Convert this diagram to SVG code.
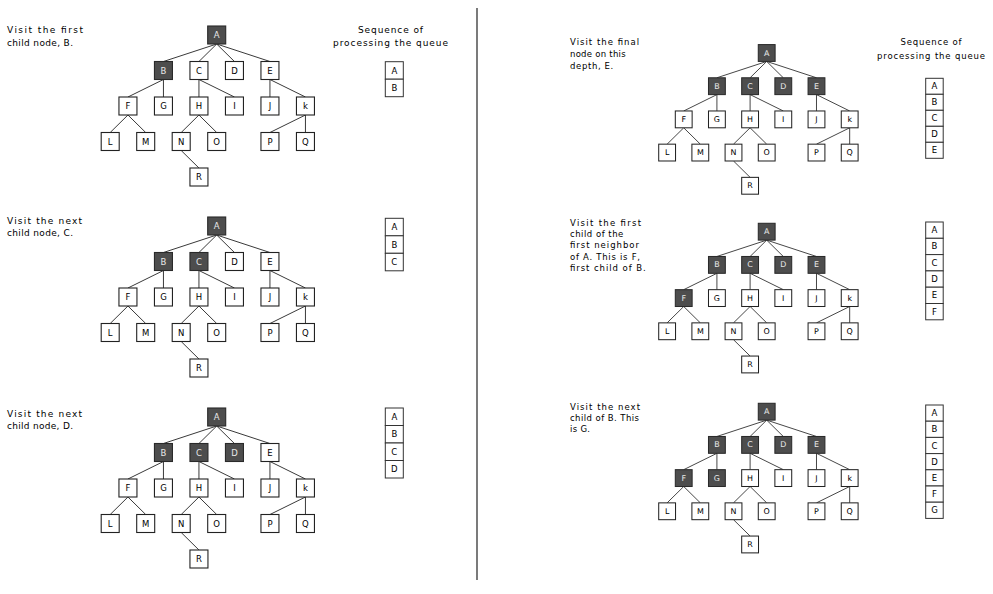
<svg xmlns="http://www.w3.org/2000/svg" width="993" height="594" viewBox="0 0 993 594">
<style>
.n rect{fill:#fff;stroke:#222;stroke-width:1.1}
.n text{font-family:"DejaVu Sans",sans-serif;font-size:8.5px;text-anchor:middle;dominant-baseline:central;fill:#000}
.dk rect{fill:#4d4d4d;stroke:#2a2a2a}
.dk text{fill:#e8e8e8}
.e line{stroke:#3a3a3a;stroke-width:1}
.q rect{fill:#fff;stroke:#333;stroke-width:1}
.q text{font-family:"DejaVu Sans",sans-serif;font-size:8.5px;text-anchor:middle;dominant-baseline:central;fill:#000}
.t{font-family:"DejaVu Sans",sans-serif;font-size:9px;fill:#000}
.tr{font-family:"DejaVu Sans",sans-serif;font-size:8.5px;fill:#000}
.qt{font-family:"DejaVu Sans",sans-serif;font-size:9px;fill:#000;text-anchor:middle}
</style>
<rect width="993" height="594" fill="#fff"/>
<line x1="477" y1="8" x2="477" y2="580" stroke="#333" stroke-width="1.3"/>

<!-- Panel 1 -->
<g id="panel1">
<text class="t" x="7" y="33" textLength="76" lengthAdjust="spacing">Visit the first</text>
<text class="t" x="7" y="45.5" textLength="66" lengthAdjust="spacing">child node, B.</text>
<text class="qt" x="390.5" y="32.5" textLength="65" lengthAdjust="spacing">Sequence of</text>
<text class="qt" x="390.5" y="46" textLength="115" lengthAdjust="spacing">processing the queue</text>
<g id="p1-queue" class="q">
<rect x="385.3" y="61.7" width="18" height="17.5"/><text x="394.3" y="70.6">A</text>
<rect x="385.3" y="79.2" width="18" height="17.5"/><text x="394.3" y="88.1">B</text>
</g>
<g transform="translate(216.7,35)">
<g id="p1-edges" class="e">
<line x1="0" y1="9" x2="-53.25" y2="26.5"/><line x1="0" y1="9" x2="-17.75" y2="26.5"/><line x1="0" y1="9" x2="17.75" y2="26.5"/><line x1="0" y1="9" x2="53.25" y2="26.5"/>
<line x1="-53.25" y1="44.5" x2="-88.75" y2="62"/><line x1="-53.25" y1="44.5" x2="-53.25" y2="62"/><line x1="-17.75" y1="44.5" x2="-17.75" y2="62"/><line x1="-17.75" y1="44.5" x2="17.75" y2="62"/><line x1="53.25" y1="44.5" x2="53.25" y2="62"/><line x1="53.25" y1="44.5" x2="88.75" y2="62"/>
<line x1="-88.75" y1="80" x2="-106.5" y2="97.5"/><line x1="-88.75" y1="80" x2="-71" y2="97.5"/><line x1="-17.75" y1="80" x2="-35.5" y2="97.5"/><line x1="-17.75" y1="80" x2="0" y2="97.5"/><line x1="88.75" y1="80" x2="53.25" y2="97.5"/><line x1="88.75" y1="80" x2="88.75" y2="97.5"/>
<line x1="-35.5" y1="115.5" x2="-17.75" y2="133"/>
</g>
<g id="p1-A" class="n dk" transform="translate(0,0)"><rect x="-9" y="-9" width="18" height="18"/><text>A</text></g>
<g id="p1-B" class="n dk" transform="translate(-53.25,35.5)"><rect x="-9" y="-9" width="18" height="18"/><text>B</text></g>
<g id="p1-C" class="n" transform="translate(-17.75,35.5)"><rect x="-9" y="-9" width="18" height="18"/><text>C</text></g>
<g id="p1-D" class="n" transform="translate(17.75,35.5)"><rect x="-9" y="-9" width="18" height="18"/><text>D</text></g>
<g id="p1-E" class="n" transform="translate(53.25,35.5)"><rect x="-9" y="-9" width="18" height="18"/><text>E</text></g>
<g id="p1-F" class="n" transform="translate(-88.75,71)"><rect x="-9" y="-9" width="18" height="18"/><text>F</text></g>
<g id="p1-G" class="n" transform="translate(-53.25,71)"><rect x="-9" y="-9" width="18" height="18"/><text>G</text></g>
<g id="p1-H" class="n" transform="translate(-17.75,71)"><rect x="-9" y="-9" width="18" height="18"/><text>H</text></g>
<g id="p1-I" class="n" transform="translate(17.75,71)"><rect x="-9" y="-9" width="18" height="18"/><text>I</text></g>
<g id="p1-J" class="n" transform="translate(53.25,71)"><rect x="-9" y="-9" width="18" height="18"/><text>J</text></g>
<g id="p1-K" class="n" transform="translate(88.75,71)"><rect x="-9" y="-9" width="18" height="18"/><text>k</text></g>
<g id="p1-L" class="n" transform="translate(-106.5,106.5)"><rect x="-9" y="-9" width="18" height="18"/><text>L</text></g>
<g id="p1-M" class="n" transform="translate(-71,106.5)"><rect x="-9" y="-9" width="18" height="18"/><text>M</text></g>
<g id="p1-N" class="n" transform="translate(-35.5,106.5)"><rect x="-9" y="-9" width="18" height="18"/><text>N</text></g>
<g id="p1-O" class="n" transform="translate(0,106.5)"><rect x="-9" y="-9" width="18" height="18"/><text>O</text></g>
<g id="p1-P" class="n" transform="translate(53.25,106.5)"><rect x="-9" y="-9" width="18" height="18"/><text>P</text></g>
<g id="p1-Q" class="n" transform="translate(88.75,106.5)"><rect x="-9" y="-9" width="18" height="18"/><text>Q</text></g>
<g id="p1-R" class="n" transform="translate(-17.75,142)"><rect x="-9" y="-9" width="18" height="18"/><text>R</text></g>
</g>
</g>

<!-- Panel 2 -->
<g id="panel2">
<text class="t" x="7" y="224" textLength="75" lengthAdjust="spacing">Visit the next</text>
<text class="t" x="7" y="236" textLength="66" lengthAdjust="spacing">child node, C.</text>
<g id="p2-queue" class="q">
<rect x="385.3" y="218.3" width="18" height="17.5"/><text x="394.3" y="227.2">A</text>
<rect x="385.3" y="235.8" width="18" height="17.5"/><text x="394.3" y="244.7">B</text>
<rect x="385.3" y="253.3" width="18" height="17.5"/><text x="394.3" y="262.2">C</text>
</g>
<g transform="translate(216.7,226)">
<g id="p2-edges" class="e">
<line x1="0" y1="9" x2="-53.25" y2="26.5"/><line x1="0" y1="9" x2="-17.75" y2="26.5"/><line x1="0" y1="9" x2="17.75" y2="26.5"/><line x1="0" y1="9" x2="53.25" y2="26.5"/>
<line x1="-53.25" y1="44.5" x2="-88.75" y2="62"/><line x1="-53.25" y1="44.5" x2="-53.25" y2="62"/><line x1="-17.75" y1="44.5" x2="-17.75" y2="62"/><line x1="-17.75" y1="44.5" x2="17.75" y2="62"/><line x1="53.25" y1="44.5" x2="53.25" y2="62"/><line x1="53.25" y1="44.5" x2="88.75" y2="62"/>
<line x1="-88.75" y1="80" x2="-106.5" y2="97.5"/><line x1="-88.75" y1="80" x2="-71" y2="97.5"/><line x1="-17.75" y1="80" x2="-35.5" y2="97.5"/><line x1="-17.75" y1="80" x2="0" y2="97.5"/><line x1="88.75" y1="80" x2="53.25" y2="97.5"/><line x1="88.75" y1="80" x2="88.75" y2="97.5"/>
<line x1="-35.5" y1="115.5" x2="-17.75" y2="133"/>
</g>
<g id="p2-A" class="n dk" transform="translate(0,0)"><rect x="-9" y="-9" width="18" height="18"/><text>A</text></g>
<g id="p2-B" class="n dk" transform="translate(-53.25,35.5)"><rect x="-9" y="-9" width="18" height="18"/><text>B</text></g>
<g id="p2-C" class="n dk" transform="translate(-17.75,35.5)"><rect x="-9" y="-9" width="18" height="18"/><text>C</text></g>
<g id="p2-D" class="n" transform="translate(17.75,35.5)"><rect x="-9" y="-9" width="18" height="18"/><text>D</text></g>
<g id="p2-E" class="n" transform="translate(53.25,35.5)"><rect x="-9" y="-9" width="18" height="18"/><text>E</text></g>
<g id="p2-F" class="n" transform="translate(-88.75,71)"><rect x="-9" y="-9" width="18" height="18"/><text>F</text></g>
<g id="p2-G" class="n" transform="translate(-53.25,71)"><rect x="-9" y="-9" width="18" height="18"/><text>G</text></g>
<g id="p2-H" class="n" transform="translate(-17.75,71)"><rect x="-9" y="-9" width="18" height="18"/><text>H</text></g>
<g id="p2-I" class="n" transform="translate(17.75,71)"><rect x="-9" y="-9" width="18" height="18"/><text>I</text></g>
<g id="p2-J" class="n" transform="translate(53.25,71)"><rect x="-9" y="-9" width="18" height="18"/><text>J</text></g>
<g id="p2-K" class="n" transform="translate(88.75,71)"><rect x="-9" y="-9" width="18" height="18"/><text>k</text></g>
<g id="p2-L" class="n" transform="translate(-106.5,106.5)"><rect x="-9" y="-9" width="18" height="18"/><text>L</text></g>
<g id="p2-M" class="n" transform="translate(-71,106.5)"><rect x="-9" y="-9" width="18" height="18"/><text>M</text></g>
<g id="p2-N" class="n" transform="translate(-35.5,106.5)"><rect x="-9" y="-9" width="18" height="18"/><text>N</text></g>
<g id="p2-O" class="n" transform="translate(0,106.5)"><rect x="-9" y="-9" width="18" height="18"/><text>O</text></g>
<g id="p2-P" class="n" transform="translate(53.25,106.5)"><rect x="-9" y="-9" width="18" height="18"/><text>P</text></g>
<g id="p2-Q" class="n" transform="translate(88.75,106.5)"><rect x="-9" y="-9" width="18" height="18"/><text>Q</text></g>
<g id="p2-R" class="n" transform="translate(-17.75,142)"><rect x="-9" y="-9" width="18" height="18"/><text>R</text></g>
</g>
</g>

<!-- Panel 3 -->
<g id="panel3">
<text class="t" x="7" y="416.5" textLength="75" lengthAdjust="spacing">Visit the next</text>
<text class="t" x="7" y="428.5" textLength="66" lengthAdjust="spacing">child node, D.</text>
<g id="p3-queue" class="q">
<rect x="385.3" y="408" width="18" height="17.5"/><text x="394.3" y="416.9">A</text>
<rect x="385.3" y="425.5" width="18" height="17.5"/><text x="394.3" y="434.4">B</text>
<rect x="385.3" y="443" width="18" height="17.5"/><text x="394.3" y="451.9">C</text>
<rect x="385.3" y="460.5" width="18" height="17.5"/><text x="394.3" y="469.4">D</text>
</g>
<g transform="translate(216.7,417)">
<g id="p3-edges" class="e">
<line x1="0" y1="9" x2="-53.25" y2="26.5"/><line x1="0" y1="9" x2="-17.75" y2="26.5"/><line x1="0" y1="9" x2="17.75" y2="26.5"/><line x1="0" y1="9" x2="53.25" y2="26.5"/>
<line x1="-53.25" y1="44.5" x2="-88.75" y2="62"/><line x1="-53.25" y1="44.5" x2="-53.25" y2="62"/><line x1="-17.75" y1="44.5" x2="-17.75" y2="62"/><line x1="-17.75" y1="44.5" x2="17.75" y2="62"/><line x1="53.25" y1="44.5" x2="53.25" y2="62"/><line x1="53.25" y1="44.5" x2="88.75" y2="62"/>
<line x1="-88.75" y1="80" x2="-106.5" y2="97.5"/><line x1="-88.75" y1="80" x2="-71" y2="97.5"/><line x1="-17.75" y1="80" x2="-35.5" y2="97.5"/><line x1="-17.75" y1="80" x2="0" y2="97.5"/><line x1="88.75" y1="80" x2="53.25" y2="97.5"/><line x1="88.75" y1="80" x2="88.75" y2="97.5"/>
<line x1="-35.5" y1="115.5" x2="-17.75" y2="133"/>
</g>
<g id="p3-A" class="n dk" transform="translate(0,0)"><rect x="-9" y="-9" width="18" height="18"/><text>A</text></g>
<g id="p3-B" class="n dk" transform="translate(-53.25,35.5)"><rect x="-9" y="-9" width="18" height="18"/><text>B</text></g>
<g id="p3-C" class="n dk" transform="translate(-17.75,35.5)"><rect x="-9" y="-9" width="18" height="18"/><text>C</text></g>
<g id="p3-D" class="n dk" transform="translate(17.75,35.5)"><rect x="-9" y="-9" width="18" height="18"/><text>D</text></g>
<g id="p3-E" class="n" transform="translate(53.25,35.5)"><rect x="-9" y="-9" width="18" height="18"/><text>E</text></g>
<g id="p3-F" class="n" transform="translate(-88.75,71)"><rect x="-9" y="-9" width="18" height="18"/><text>F</text></g>
<g id="p3-G" class="n" transform="translate(-53.25,71)"><rect x="-9" y="-9" width="18" height="18"/><text>G</text></g>
<g id="p3-H" class="n" transform="translate(-17.75,71)"><rect x="-9" y="-9" width="18" height="18"/><text>H</text></g>
<g id="p3-I" class="n" transform="translate(17.75,71)"><rect x="-9" y="-9" width="18" height="18"/><text>I</text></g>
<g id="p3-J" class="n" transform="translate(53.25,71)"><rect x="-9" y="-9" width="18" height="18"/><text>J</text></g>
<g id="p3-K" class="n" transform="translate(88.75,71)"><rect x="-9" y="-9" width="18" height="18"/><text>k</text></g>
<g id="p3-L" class="n" transform="translate(-106.5,106.5)"><rect x="-9" y="-9" width="18" height="18"/><text>L</text></g>
<g id="p3-M" class="n" transform="translate(-71,106.5)"><rect x="-9" y="-9" width="18" height="18"/><text>M</text></g>
<g id="p3-N" class="n" transform="translate(-35.5,106.5)"><rect x="-9" y="-9" width="18" height="18"/><text>N</text></g>
<g id="p3-O" class="n" transform="translate(0,106.5)"><rect x="-9" y="-9" width="18" height="18"/><text>O</text></g>
<g id="p3-P" class="n" transform="translate(53.25,106.5)"><rect x="-9" y="-9" width="18" height="18"/><text>P</text></g>
<g id="p3-Q" class="n" transform="translate(88.75,106.5)"><rect x="-9" y="-9" width="18" height="18"/><text>Q</text></g>
<g id="p3-R" class="n" transform="translate(-17.75,142)"><rect x="-9" y="-9" width="18" height="18"/><text>R</text></g>
</g>
</g>

<!-- Panel 4 -->
<g id="panel4">
<text class="tr" x="570" y="45" textLength="69" lengthAdjust="spacing">Visit the final</text>
<text class="tr" x="570" y="56.8" textLength="55.7" lengthAdjust="spacing">node on this</text>
<text class="tr" x="570" y="68.5" textLength="43.3" lengthAdjust="spacing">depth, E.</text>
<text class="qt" x="931" y="45" textLength="61" lengthAdjust="spacing" style="font-size:8.5px">Sequence of</text>
<text class="qt" x="931" y="59" textLength="108" lengthAdjust="spacing" style="font-size:8.5px">processing the queue</text>
<g id="p4-queue" class="q">
<rect x="925.7" y="78.3" width="17.5" height="16"/><text x="934.45" y="86.3">A</text>
<rect x="925.7" y="94.3" width="17.5" height="16"/><text x="934.45" y="102.3">B</text>
<rect x="925.7" y="110.3" width="17.5" height="16"/><text x="934.45" y="118.3">C</text>
<rect x="925.7" y="126.3" width="17.5" height="16"/><text x="934.45" y="134.3">D</text>
<rect x="925.7" y="142.3" width="17.5" height="16"/><text x="934.45" y="150.3">E</text>
</g>
<g transform="translate(766.7,53) scale(0.935)">
<g id="p4-edges" class="e">
<line x1="0" y1="9" x2="-53.25" y2="26.5"/><line x1="0" y1="9" x2="-17.75" y2="26.5"/><line x1="0" y1="9" x2="17.75" y2="26.5"/><line x1="0" y1="9" x2="53.25" y2="26.5"/>
<line x1="-53.25" y1="44.5" x2="-88.75" y2="62"/><line x1="-53.25" y1="44.5" x2="-53.25" y2="62"/><line x1="-17.75" y1="44.5" x2="-17.75" y2="62"/><line x1="-17.75" y1="44.5" x2="17.75" y2="62"/><line x1="53.25" y1="44.5" x2="53.25" y2="62"/><line x1="53.25" y1="44.5" x2="88.75" y2="62"/>
<line x1="-88.75" y1="80" x2="-106.5" y2="97.5"/><line x1="-88.75" y1="80" x2="-71" y2="97.5"/><line x1="-17.75" y1="80" x2="-35.5" y2="97.5"/><line x1="-17.75" y1="80" x2="0" y2="97.5"/><line x1="88.75" y1="80" x2="53.25" y2="97.5"/><line x1="88.75" y1="80" x2="88.75" y2="97.5"/>
<line x1="-35.5" y1="115.5" x2="-17.75" y2="133"/>
</g>
<g id="p4-A" class="n dk" transform="translate(0,0)"><rect x="-9" y="-9" width="18" height="18"/><text>A</text></g>
<g id="p4-B" class="n dk" transform="translate(-53.25,35.5)"><rect x="-9" y="-9" width="18" height="18"/><text>B</text></g>
<g id="p4-C" class="n dk" transform="translate(-17.75,35.5)"><rect x="-9" y="-9" width="18" height="18"/><text>C</text></g>
<g id="p4-D" class="n dk" transform="translate(17.75,35.5)"><rect x="-9" y="-9" width="18" height="18"/><text>D</text></g>
<g id="p4-E" class="n dk" transform="translate(53.25,35.5)"><rect x="-9" y="-9" width="18" height="18"/><text>E</text></g>
<g id="p4-F" class="n" transform="translate(-88.75,71)"><rect x="-9" y="-9" width="18" height="18"/><text>F</text></g>
<g id="p4-G" class="n" transform="translate(-53.25,71)"><rect x="-9" y="-9" width="18" height="18"/><text>G</text></g>
<g id="p4-H" class="n" transform="translate(-17.75,71)"><rect x="-9" y="-9" width="18" height="18"/><text>H</text></g>
<g id="p4-I" class="n" transform="translate(17.75,71)"><rect x="-9" y="-9" width="18" height="18"/><text>I</text></g>
<g id="p4-J" class="n" transform="translate(53.25,71)"><rect x="-9" y="-9" width="18" height="18"/><text>J</text></g>
<g id="p4-K" class="n" transform="translate(88.75,71)"><rect x="-9" y="-9" width="18" height="18"/><text>k</text></g>
<g id="p4-L" class="n" transform="translate(-106.5,106.5)"><rect x="-9" y="-9" width="18" height="18"/><text>L</text></g>
<g id="p4-M" class="n" transform="translate(-71,106.5)"><rect x="-9" y="-9" width="18" height="18"/><text>M</text></g>
<g id="p4-N" class="n" transform="translate(-35.5,106.5)"><rect x="-9" y="-9" width="18" height="18"/><text>N</text></g>
<g id="p4-O" class="n" transform="translate(0,106.5)"><rect x="-9" y="-9" width="18" height="18"/><text>O</text></g>
<g id="p4-P" class="n" transform="translate(53.25,106.5)"><rect x="-9" y="-9" width="18" height="18"/><text>P</text></g>
<g id="p4-Q" class="n" transform="translate(88.75,106.5)"><rect x="-9" y="-9" width="18" height="18"/><text>Q</text></g>
<g id="p4-R" class="n" transform="translate(-17.75,142)"><rect x="-9" y="-9" width="18" height="18"/><text>R</text></g>
</g>
</g>

<!-- Panel 5 -->
<g id="panel5">
<text class="tr" x="570" y="225.7" textLength="71" lengthAdjust="spacing">Visit the first</text>
<text class="tr" x="570" y="237" textLength="53.3" lengthAdjust="spacing">child of the</text>
<text class="tr" x="570" y="248.3" textLength="69" lengthAdjust="spacing">first neighbor</text>
<text class="tr" x="570" y="259.6" textLength="70" lengthAdjust="spacing">of A. This is F,</text>
<text class="tr" x="570" y="270.9" textLength="75.7" lengthAdjust="spacing">first child of B.</text>
<g id="p5-queue" class="q">
<rect x="925.7" y="222" width="17.5" height="16.3"/><text x="934.45" y="230.15">A</text>
<rect x="925.7" y="238.3" width="17.5" height="16.3"/><text x="934.45" y="246.45">B</text>
<rect x="925.7" y="254.6" width="17.5" height="16.3"/><text x="934.45" y="262.75">C</text>
<rect x="925.7" y="270.9" width="17.5" height="16.3"/><text x="934.45" y="279.05">D</text>
<rect x="925.7" y="287.2" width="17.5" height="16.3"/><text x="934.45" y="295.35">E</text>
<rect x="925.7" y="303.5" width="17.5" height="16.3"/><text x="934.45" y="311.65">F</text>
</g>
<g transform="translate(766.7,231.7) scale(0.935)">
<g id="p5-edges" class="e">
<line x1="0" y1="9" x2="-53.25" y2="26.5"/><line x1="0" y1="9" x2="-17.75" y2="26.5"/><line x1="0" y1="9" x2="17.75" y2="26.5"/><line x1="0" y1="9" x2="53.25" y2="26.5"/>
<line x1="-53.25" y1="44.5" x2="-88.75" y2="62"/><line x1="-53.25" y1="44.5" x2="-53.25" y2="62"/><line x1="-17.75" y1="44.5" x2="-17.75" y2="62"/><line x1="-17.75" y1="44.5" x2="17.75" y2="62"/><line x1="53.25" y1="44.5" x2="53.25" y2="62"/><line x1="53.25" y1="44.5" x2="88.75" y2="62"/>
<line x1="-88.75" y1="80" x2="-106.5" y2="97.5"/><line x1="-88.75" y1="80" x2="-71" y2="97.5"/><line x1="-17.75" y1="80" x2="-35.5" y2="97.5"/><line x1="-17.75" y1="80" x2="0" y2="97.5"/><line x1="88.75" y1="80" x2="53.25" y2="97.5"/><line x1="88.75" y1="80" x2="88.75" y2="97.5"/>
<line x1="-35.5" y1="115.5" x2="-17.75" y2="133"/>
</g>
<g id="p5-A" class="n dk" transform="translate(0,0)"><rect x="-9" y="-9" width="18" height="18"/><text>A</text></g>
<g id="p5-B" class="n dk" transform="translate(-53.25,35.5)"><rect x="-9" y="-9" width="18" height="18"/><text>B</text></g>
<g id="p5-C" class="n dk" transform="translate(-17.75,35.5)"><rect x="-9" y="-9" width="18" height="18"/><text>C</text></g>
<g id="p5-D" class="n dk" transform="translate(17.75,35.5)"><rect x="-9" y="-9" width="18" height="18"/><text>D</text></g>
<g id="p5-E" class="n dk" transform="translate(53.25,35.5)"><rect x="-9" y="-9" width="18" height="18"/><text>E</text></g>
<g id="p5-F" class="n dk" transform="translate(-88.75,71)"><rect x="-9" y="-9" width="18" height="18"/><text>F</text></g>
<g id="p5-G" class="n" transform="translate(-53.25,71)"><rect x="-9" y="-9" width="18" height="18"/><text>G</text></g>
<g id="p5-H" class="n" transform="translate(-17.75,71)"><rect x="-9" y="-9" width="18" height="18"/><text>H</text></g>
<g id="p5-I" class="n" transform="translate(17.75,71)"><rect x="-9" y="-9" width="18" height="18"/><text>I</text></g>
<g id="p5-J" class="n" transform="translate(53.25,71)"><rect x="-9" y="-9" width="18" height="18"/><text>J</text></g>
<g id="p5-K" class="n" transform="translate(88.75,71)"><rect x="-9" y="-9" width="18" height="18"/><text>k</text></g>
<g id="p5-L" class="n" transform="translate(-106.5,106.5)"><rect x="-9" y="-9" width="18" height="18"/><text>L</text></g>
<g id="p5-M" class="n" transform="translate(-71,106.5)"><rect x="-9" y="-9" width="18" height="18"/><text>M</text></g>
<g id="p5-N" class="n" transform="translate(-35.5,106.5)"><rect x="-9" y="-9" width="18" height="18"/><text>N</text></g>
<g id="p5-O" class="n" transform="translate(0,106.5)"><rect x="-9" y="-9" width="18" height="18"/><text>O</text></g>
<g id="p5-P" class="n" transform="translate(53.25,106.5)"><rect x="-9" y="-9" width="18" height="18"/><text>P</text></g>
<g id="p5-Q" class="n" transform="translate(88.75,106.5)"><rect x="-9" y="-9" width="18" height="18"/><text>Q</text></g>
<g id="p5-R" class="n" transform="translate(-17.75,142)"><rect x="-9" y="-9" width="18" height="18"/><text>R</text></g>
</g>
</g>

<!-- Panel 6 -->
<g id="panel6">
<text class="tr" x="570" y="410" textLength="70" lengthAdjust="spacing">Visit the next</text>
<text class="tr" x="570" y="421" textLength="69" lengthAdjust="spacing">child of B. This</text>
<text class="tr" x="570" y="431.8" textLength="20" lengthAdjust="spacing">is G.</text>
<g id="p6-queue" class="q">
<rect x="925.7" y="405" width="17.5" height="16.2"/><text x="934.45" y="413.1">A</text>
<rect x="925.7" y="421.2" width="17.5" height="16.2"/><text x="934.45" y="429.3">B</text>
<rect x="925.7" y="437.4" width="17.5" height="16.2"/><text x="934.45" y="445.5">C</text>
<rect x="925.7" y="453.6" width="17.5" height="16.2"/><text x="934.45" y="461.7">D</text>
<rect x="925.7" y="469.8" width="17.5" height="16.2"/><text x="934.45" y="477.9">E</text>
<rect x="925.7" y="486" width="17.5" height="16.2"/><text x="934.45" y="494.1">F</text>
<rect x="925.7" y="502.2" width="17.5" height="16.2"/><text x="934.45" y="510.3">G</text>
</g>
<g transform="translate(766.7,411.7) scale(0.935)">
<g id="p6-edges" class="e">
<line x1="0" y1="9" x2="-53.25" y2="26.5"/><line x1="0" y1="9" x2="-17.75" y2="26.5"/><line x1="0" y1="9" x2="17.75" y2="26.5"/><line x1="0" y1="9" x2="53.25" y2="26.5"/>
<line x1="-53.25" y1="44.5" x2="-88.75" y2="62"/><line x1="-53.25" y1="44.5" x2="-53.25" y2="62"/><line x1="-17.75" y1="44.5" x2="-17.75" y2="62"/><line x1="-17.75" y1="44.5" x2="17.75" y2="62"/><line x1="53.25" y1="44.5" x2="53.25" y2="62"/><line x1="53.25" y1="44.5" x2="88.75" y2="62"/>
<line x1="-88.75" y1="80" x2="-106.5" y2="97.5"/><line x1="-88.75" y1="80" x2="-71" y2="97.5"/><line x1="-17.75" y1="80" x2="-35.5" y2="97.5"/><line x1="-17.75" y1="80" x2="0" y2="97.5"/><line x1="88.75" y1="80" x2="53.25" y2="97.5"/><line x1="88.75" y1="80" x2="88.75" y2="97.5"/>
<line x1="-35.5" y1="115.5" x2="-17.75" y2="133"/>
</g>
<g id="p6-A" class="n dk" transform="translate(0,0)"><rect x="-9" y="-9" width="18" height="18"/><text>A</text></g>
<g id="p6-B" class="n dk" transform="translate(-53.25,35.5)"><rect x="-9" y="-9" width="18" height="18"/><text>B</text></g>
<g id="p6-C" class="n dk" transform="translate(-17.75,35.5)"><rect x="-9" y="-9" width="18" height="18"/><text>C</text></g>
<g id="p6-D" class="n dk" transform="translate(17.75,35.5)"><rect x="-9" y="-9" width="18" height="18"/><text>D</text></g>
<g id="p6-E" class="n dk" transform="translate(53.25,35.5)"><rect x="-9" y="-9" width="18" height="18"/><text>E</text></g>
<g id="p6-F" class="n dk" transform="translate(-88.75,71)"><rect x="-9" y="-9" width="18" height="18"/><text>F</text></g>
<g id="p6-G" class="n dk" transform="translate(-53.25,71)"><rect x="-9" y="-9" width="18" height="18"/><text>G</text></g>
<g id="p6-H" class="n" transform="translate(-17.75,71)"><rect x="-9" y="-9" width="18" height="18"/><text>H</text></g>
<g id="p6-I" class="n" transform="translate(17.75,71)"><rect x="-9" y="-9" width="18" height="18"/><text>I</text></g>
<g id="p6-J" class="n" transform="translate(53.25,71)"><rect x="-9" y="-9" width="18" height="18"/><text>J</text></g>
<g id="p6-K" class="n" transform="translate(88.75,71)"><rect x="-9" y="-9" width="18" height="18"/><text>k</text></g>
<g id="p6-L" class="n" transform="translate(-106.5,106.5)"><rect x="-9" y="-9" width="18" height="18"/><text>L</text></g>
<g id="p6-M" class="n" transform="translate(-71,106.5)"><rect x="-9" y="-9" width="18" height="18"/><text>M</text></g>
<g id="p6-N" class="n" transform="translate(-35.5,106.5)"><rect x="-9" y="-9" width="18" height="18"/><text>N</text></g>
<g id="p6-O" class="n" transform="translate(0,106.5)"><rect x="-9" y="-9" width="18" height="18"/><text>O</text></g>
<g id="p6-P" class="n" transform="translate(53.25,106.5)"><rect x="-9" y="-9" width="18" height="18"/><text>P</text></g>
<g id="p6-Q" class="n" transform="translate(88.75,106.5)"><rect x="-9" y="-9" width="18" height="18"/><text>Q</text></g>
<g id="p6-R" class="n" transform="translate(-17.75,142)"><rect x="-9" y="-9" width="18" height="18"/><text>R</text></g>
</g>
</g>
</svg>
